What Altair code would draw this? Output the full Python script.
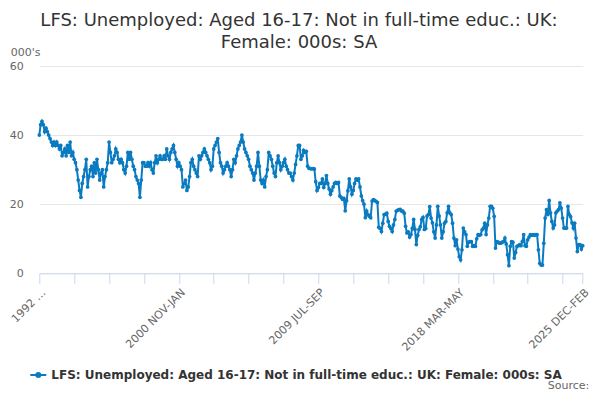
import altair as alt
import pandas as pd

series_name = "LFS: Unemployed: Aged 16-17: Not in full-time educ.: UK: Female: 000s: SA"
title_lines = ["LFS: Unemployed: Aged 16-17: Not in full-time educ.: UK:", "Female: 000s: SA"]

# monthly rolling 3-month periods, 1992 MAR-MAY ... 2025 DEC-FEB (thousands)
v1992 = [40, 43, 44, 43, 41, 42, 41, 40, 39, 38]
v1993 = [37, 38, 37, 38, 37, 36, 37, 34, 35, 36, 34, 37]
v1994 = [35, 38, 34, 35, 33, 32, 30, 27, 24, 22, 26, 28]
v1995 = [30, 33, 25, 28, 30, 31, 28, 32, 29, 33, 30, 27]
v1996 = [29, 30, 25, 28, 30, 32, 38, 35, 32, 33, 34, 36]
v1997 = [35, 33, 32, 33, 32, 30, 29, 31, 35, 33, 35, 33]
v1998 = [31, 30, 28, 27, 26, 22, 27, 32, 32, 31, 31, 32]
v1999 = [31, 32, 30, 29, 32, 34, 32, 33, 34, 33, 33, 34]
v2000 = [33, 36, 34, 33, 35, 36, 37, 35, 33, 31, 32, 31]
v2001 = [30, 25, 26, 27, 24, 25, 28, 32, 33, 31, 30, 29]
v2002 = [28, 34, 33, 34, 35, 36, 35, 34, 33, 32, 30, 31]
v2003 = [36, 37, 38, 39, 35, 32, 31, 29, 30, 31, 32, 31]
v2004 = [30, 28, 30, 33, 32, 34, 36, 37, 38, 40, 38, 36]
v2005 = [35, 34, 33, 31, 30, 29, 27, 29, 31, 35, 31, 27]
v2006 = [26, 27, 25, 28, 30, 35, 34, 33, 31, 29, 28, 32]
v2007 = [34, 32, 30, 31, 32, 33, 31, 30, 29, 29, 28, 27]
v2008 = [29, 31.5, 34, 37, 37, 33, 34, 35.6, 35, 35.3, 31, 30.4]
v2009 = [30.3, 30.2, 30.3, 30.2, 26.5, 24, 24.8, 26, 26, 27.3, 24.8, 26]
v2010 = [28.3, 26, 24.4, 22.9, 23.9, 25, 26, 26.3, 26, 26.3, 22.4, 22]
v2011 = [21.4, 21.7, 18.1, 21, 23.9, 27.3, 25, 22.9, 24, 26, 27.3, 27]
v2012 = [27.3, 25, 22.4, 21, 20, 16.1, 18, 17, 16.5, 16.1, 20.9, 21.3]
v2013 = [21.1, 20.8, 20.5, 13.3, 13, 12.1, 14.5, 17, 17.1, 17.4, 15, 13.6]
v2014 = [13, 12.1, 14, 15.6, 18, 18.2, 18.4, 18.5, 18, 18, 17.4, 13.6]
v2015 = [11.7, 12, 10.5, 11.2, 13, 15.6, 12.7, 8.3, 11, 12.7, 13.5, 15.6]
v2016 = [16.2, 12.7, 13, 16.6, 17, 19.3, 16, 14.6, 12, 10.2, 14, 19.4]
v2017 = [16.6, 14, 10.2, 12, 14.5, 15, 17.5, 19.4, 17.5, 17, 14.5, 10.2]
v2018 = [8, 9.7, 7, 4.8, 3.9, 6.8, 13.1, 12, 11.2, 7.8, 9, 9.2]
v2019 = [9.2, 7.8, 8, 7.8, 10, 11.2, 11, 11.2, 12.6, 13.1, 14.5, 11.2]
v2020 = [14, 16, 19.4, 19.4, 18.8, 16.5, 7.3, 9.2, 9, 8.7, 8.7, 9]
v2021 = [9.2, 10.2, 8.5, 5.4, 2.2, 7.8, 9.2, 9, 4.4, 6, 7.8, 8]
v2022 = [8.3, 8, 9.2, 11.2, 8, 7.8, 9.7, 10.5, 11.2, 11, 11.2, 11]
v2023 = [11.2, 11.2, 6.8, 2.9, 2.4, 2.4, 8.7, 16, 18.4, 17, 21.1, 17.5]
v2024 = [15, 13.1, 14, 17.5, 18, 18.4, 20.4, 18.9, 16, 13.1, 13.1, 13.1]
v2025 = [19.4, 17, 16.4, 14.6, 13.1, 14.5, 10.2, 6.3, 8.3, 8.3, 7, 8]

values = (v1992 + v1993 + v1994 + v1995 + v1996 + v1997 + v1998 + v1999 + v2000
          + v2001 + v2002 + v2003 + v2004 + v2005 + v2006 + v2007 + v2008 + v2009
          + v2010 + v2011 + v2012 + v2013 + v2014 + v2015 + v2016 + v2017 + v2018
          + v2019 + v2020 + v2021 + v2022 + v2023 + v2024 + v2025)

tick_positions = [0, 26, 52, 78, 104, 130, 156, 182, 208, 234, 260, 286, 312, 338, 364, 390, 405]
label_positions = [0, 104, 208, 312, 405]
tick_labels = ["1992 \u2026", "2000 NOV-JAN", "2009 JUL-SEP", "2018 MAR-MAY", "2025 DEC-FEB"]
y_ticks = [0, 20, 40, 60]

BLUE = "#0a7bc1"
FONT = "DejaVu Sans"

df = pd.DataFrame({"idx": list(range(len(values))), "value": values, "series": series_name})

label_expr = ""
for p, t in zip(label_positions, tick_labels):
    label_expr += f"datum.value == {p} ? '{t}' : "
label_expr += "''"

legend_symbol = "M-1,0L1,0M-0.25,0A0.25,0.25 0 1,1 0.25,0A0.25,0.25 0 1,1 -0.25,0Z"

line = alt.Chart(df).mark_line(
    strokeWidth=2,
    point=alt.OverlayMarkDef(filled=True, size=14),
).encode(
    x=alt.X("idx:Q",
            scale=alt.Scale(domain=[0, len(values) - 1], nice=False, zero=False),
            axis=alt.Axis(values=tick_positions, labelExpr=label_expr, labelAngle=-45,
                          grid=False, domainColor="#ccd6eb", tickColor="#ccd6eb",
                          tickSize=10, labelColor="#666666", labelFontSize=11,
                          labelPadding=3, title=None, labelOverlap=False,
                          labelFlush=False, labelFont=FONT)),
    y=alt.Y("value:Q",
            scale=alt.Scale(domain=[0, 60], nice=False),
            axis=alt.Axis(values=y_ticks, grid=True, gridColor="#e6e6e6", domain=False,
                          ticks=False, labelPadding=16, labelColor="#666666",
                          labelFontSize=11, labelFont=FONT, title="000's", titleAngle=0,
                          titleX=-29, titleY=-14, titleAlign="left",
                          titleBaseline="middle", titleFontWeight="normal",
                          titleColor="#666666", titleFontSize=11, titleFont=FONT)),
    color=alt.Color("series:N", scale=alt.Scale(range=[BLUE]),
                    legend=alt.Legend(title=None, orient="none", legendX=-10, legendY=300,
                                      symbolType=legend_symbol, symbolSize=256,
                                      symbolFillColor=BLUE, symbolStrokeColor=BLUE,
                                      symbolStrokeWidth=2, labelFontSize=12,
                                      labelFontWeight="bold", labelColor="#333333",
                                      labelFont=FONT, labelLimit=0)),
)

source = alt.Chart(pd.DataFrame({"t": ["Source:"]})).mark_text(
    align="right", baseline="middle", fontSize=11, color="#666666", font=FONT
).encode(x=alt.value(550), y=alt.value(320), text="t:N")

chart = alt.layer(line, source).properties(
    width=543.4,
    height=207.3,
    title=alt.Title(title_lines, fontSize=18, fontWeight="normal", color="#333333",
                    font=FONT, anchor="middle", frame="group", dx=-12, dy=12, offset=6,
                    lineHeight=22),
    autosize=alt.AutoSizeParams(type="none"),
    padding={"left": 31.3, "top": 58, "right": 9.3, "bottom": 118.7},
).configure_view(stroke=None)

chart.save("out.html", embed_options={"renderer": "svg", "actions": False})
